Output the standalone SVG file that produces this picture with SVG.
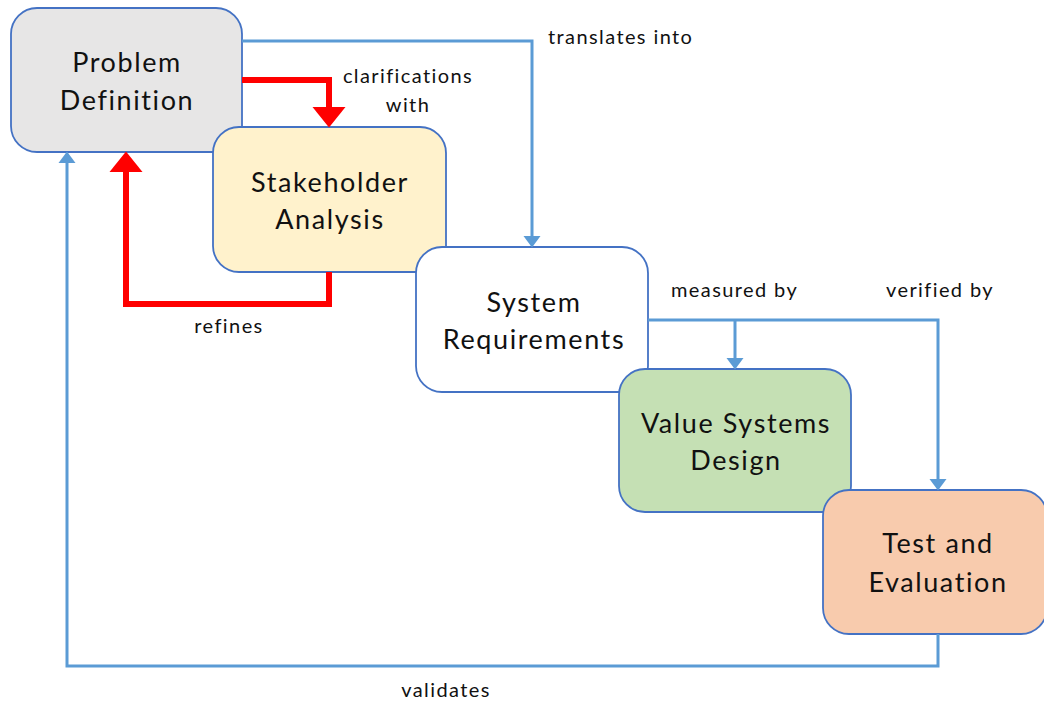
<svg xmlns="http://www.w3.org/2000/svg" width="1044" height="702" viewBox="0 0 1044 702">
  <style>
    .node { stroke: #4472c4; stroke-width: 1.8; }
    .ntext { font-family: Lato, "Liberation Sans", sans-serif; font-size: 27px; letter-spacing: 1.6px; fill: #111; text-anchor: middle; }
    .label { font-family: Lato, "Liberation Sans", sans-serif; font-size: 20px; letter-spacing: 1.4px; fill: #111; }
    .blue { fill: none; stroke: #5b9bd5; stroke-width: 3; }
    .red { fill: none; stroke: #ff0000; stroke-width: 6; }
  </style>
  <defs>
    <marker id="arrowBlue" markerUnits="userSpaceOnUse" markerWidth="12" markerHeight="18" refX="0" refY="9" orient="auto">
      <path d="M0,0.5 L11.5,9 L0,17.5 z" fill="#5b9bd5"/>
    </marker>
    <marker id="arrowRed" markerUnits="userSpaceOnUse" markerWidth="21" markerHeight="34" refX="0" refY="17" orient="auto">
      <path d="M0,0.5 L20.5,17 L0,33.5 z" fill="#ff0000"/>
    </marker>
  </defs>

  <rect width="1044" height="702" fill="#ffffff"/>

  <g id="problem-definition">
    <rect class="node" x="11" y="8" width="231" height="144" rx="26" fill="#e7e6e6"/>
    <text class="ntext" x="127" y="72">Problem</text>
    <text class="ntext" x="127" y="110">Definition</text>
  </g>

  <g id="stakeholder-analysis">
    <rect class="node" x="213" y="127" width="233" height="145" rx="26" fill="#fff2cc"/>
    <text class="ntext" x="330" y="192">Stakeholder</text>
    <text class="ntext" x="330" y="229">Analysis</text>
  </g>

  <g id="system-requirements">
    <rect class="node" x="416" y="247" width="232" height="145" rx="26" fill="#ffffff"/>
    <text class="ntext" x="534" y="312">System</text>
    <text class="ntext" x="534" y="349">Requirements</text>
  </g>

  <g id="value-systems-design">
    <rect class="node" x="619" y="369" width="232" height="143" rx="26" fill="#c5e0b4"/>
    <text class="ntext" x="736" y="433">Value Systems</text>
    <text class="ntext" x="736" y="470">Design</text>
  </g>

  <g id="test-and-evaluation">
    <rect class="node" x="823" y="490" width="224" height="144" rx="26" fill="#f8cbad"/>
    <text class="ntext" x="938" y="553">Test and</text>
    <text class="ntext" x="938" y="592">Evaluation</text>
  </g>

  <g id="connectors">
    <!-- Problem Definition translates into System Requirements -->
    <path class="blue" d="M242,41 H532 V236" marker-end="url(#arrowBlue)"/>
    <!-- clarifications with Stakeholder Analysis -->
    <path class="red" d="M242,80 H329 V107" marker-end="url(#arrowRed)"/>
    <!-- Stakeholder Analysis refines Problem Definition -->
    <path class="red" d="M329,272 V304 H126 V172" marker-end="url(#arrowRed)"/>
    <!-- System Requirements measured by / verified by -->
    <path class="blue" d="M648,320 H938 V479" marker-end="url(#arrowBlue)"/>
    <path class="blue" d="M735,320 V358" marker-end="url(#arrowBlue)"/>
    <!-- Test and Evaluation validates Problem Definition -->
    <path class="blue" d="M938,634 V666 H67 V163" marker-end="url(#arrowBlue)"/>
  </g>

  <g id="labels">
    <text class="label" x="408" y="83" text-anchor="middle">clarifications</text>
    <text class="label" x="408" y="112" text-anchor="middle">with</text>
    <text class="label" x="548" y="44">translates into</text>
    <text class="label" x="671" y="297">measured by</text>
    <text class="label" x="886" y="297">verified by</text>
    <text class="label" x="229" y="333" text-anchor="middle">refines</text>
    <text class="label" x="446" y="697" text-anchor="middle">validates</text>
  </g>
</svg>
